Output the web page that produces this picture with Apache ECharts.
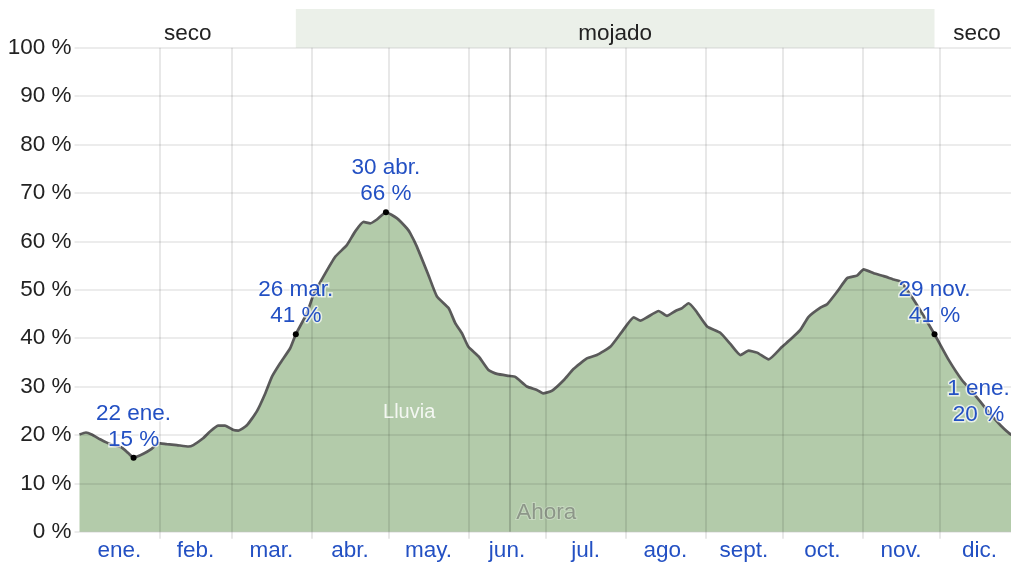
<!DOCTYPE html>
<html><head><meta charset="utf-8">
<script src="https://cdn.jsdelivr.net/npm/echarts@6/dist/echarts.min.js"></script>
<style>html,body{margin:0;padding:0;background:#fff;overflow:hidden;width:1011px;height:563px}#c{width:1020px;height:563px}</style>
</head><body><div id="c"></div>
<script>
// ---- data ----
const monthNames = ['ene.','feb.','mar.','abr.','may.','jun.','jul.','ago.','sept.','oct.','nov.','dic.'];
const monthStarts = [31,59,90,120,151,181,212,243,273,304,334];
const monthMids = [15.5,45,74.5,105,135.5,166,196.5,227.5,258,288.5,319,349.5];
const yTicks = [0,10,20,30,40,50,60,70,80,90,100];
const rainDays = [0,2.5,4.7,8,10.6,13,16.4,19,21,24.8,28,30.6,33.9,37.8,42.3,44.2,48,50.7,53.9,56.5,59.8,61.7,65,68.8,72,74.7,77.9,81.8,84,88.3,90.8,94.7,99.3,103.8,107,110.3,112.9,115.5,119,123.2,127.1,128.4,131,135.5,138.8,143.3,145.9,148.5,151,155,158.8,162.1,166.6,169.2,173.7,177.6,180,183.4,188,191.8,197,200.9,206.1,210.6,215.2,217.8,220.4,224.9,228.1,231.4,234,236.5,239.1,243.7,248.8,252.7,256.6,259.8,263.1,267.6,272.8,276,279.9,283.1,287.7,290.3,294.2,298.1,301.9,304.5,308.4,312.3,316.2,318.8,322.7,327.2,332,337.5,342.7,347.2,352.4,357.6,361.9,365];
const rainValues = [20.1,20.5,20.1,19.1,18.4,17.9,17.4,16.2,15.3,16.1,17.1,18.3,18.1,17.9,17.6,17.9,19.3,20.7,21.9,21.9,21.0,20.9,22.0,24.8,28.4,32.0,34.8,37.9,40.8,45.1,48.9,52.7,56.8,59.2,62.0,64.0,63.7,64.5,66.0,64.8,62.7,61.7,58.9,53.0,48.6,46.2,43.1,41.0,38.2,36.2,33.4,32.6,32.2,32.0,30.0,29.3,28.6,29.1,31.3,33.6,35.8,36.5,38.2,41.3,44.3,43.6,44.3,45.6,44.6,45.6,46.2,47.2,45.8,42.4,41.1,38.8,36.5,37.4,37.0,35.6,38.2,39.7,41.7,44.4,46.3,47.0,49.6,52.4,52.9,54.2,53.4,52.8,52.1,51.7,48.9,45.1,40.8,35.5,31.3,28.6,25.1,22.0,20.0,19.6];
const annoDays = [21,84,119,332,365];
const annoDates = ['22 ene.','26 mar.','30 abr.','29 nov.','1 ene.'];
const nowDay = 166.9;
const bandStarts = [0,84,332];
const bandEnds = [84,332,365];
const bandNames = ['seco','mojado','seco'];
const bandWet = [false,true,false];

// ---- chart ----
const FONT = '"Liberation Sans", Arial, sans-serif';
const BLUE = '#2350c3';
const chart = echarts.init(document.getElementById('c'), null, {renderer:'canvas'});
const seriesData = rainDays.map((d,i)=>[d, rainValues[i]]);
function valueAt(day){ const i = rainDays.indexOf(day); return rainValues[i]; }

const annoPoints = annoDays.map((d,i)=>{
  const v = valueAt(d);
  const item = {
    coord:[d, v], value:v, name:annoDates[i],
    label:{formatter: annoDates[i] + '\n' + Math.round(v) + ' %'}
  };
  if (i === annoDays.length-1) item.label.offset = [-41,-4];
  return item;
});
annoPoints.push({
  coord:[128, 24.7], name:'Lluvia', symbolSize:0,
  label:{formatter:'Lluvia', position:'inside', color:'rgba(255,255,255,0.85)', fontSize:20, textBorderWidth:0}
});
annoPoints.push({
  coord:[nowDay, 0], name:'Ahora', symbolSize:0,
  label:{formatter:'Ahora', position:'inside', offset:[37,-19], color:'rgba(70,70,70,0.45)', fontSize:22.5,
         textBorderColor:'rgba(255,255,255,0.25)', textBorderWidth:2}
});

const option = {
  animation:false,
  textStyle:{fontFamily:FONT},
  grid:[
    {left:79.5, right:0.5, top:47.7, bottom:31.3},
    {left:79.5, right:0.5, top:9, height:38.7}
  ],
  xAxis:[
    {gridIndex:0, type:'value', min:0, max:365, z:5,
     axisLine:{show:false},
     axisTick:{show:true, customValues:monthStarts, length:7, lineStyle:{color:'rgba(0,0,0,0.12)', width:1.5}},
     axisLabel:{customValues:monthMids, color:BLUE, fontSize:22.5, fontFamily:FONT, margin:8,
       formatter:(v)=>monthNames[monthMids.indexOf(v)]},
     splitLine:{show:true, lineStyle:{color:'rgba(0,0,0,0.12)', width:1.5}}
    },
    {gridIndex:1, type:'value', min:0, max:365, show:false}
  ],
  yAxis:[
    {gridIndex:0, type:'value', min:0, max:100, interval:10, z:5,
     axisLine:{show:false},
     axisTick:{show:true, length:5, lineStyle:{color:'rgba(0,0,0,0.1)', width:1.5}},
     axisLabel:{color:'#222', fontSize:22.5, fontFamily:FONT, margin:8,
       customValues:yTicks, formatter:(v)=>v + ' %'},
     splitLine:{show:true, lineStyle:{color:'rgba(0,0,0,0.1)', width:1.5}}
    },
    {gridIndex:1, type:'value', min:0, max:1, show:false}
  ],
  series:[
    {
      type:'line', xAxisIndex:0, yAxisIndex:0, z:2,
      data:seriesData, symbol:'none', smooth:0.15,
      lineStyle:{color:'#5a5a5a', width:2.7},
      areaStyle:{color:'#b3cbaa', opacity:1},
      markLine:{silent:true, symbol:['none','none'], label:{show:false},
        lineStyle:{color:'rgba(0,0,0,0.22)', type:'solid', width:1.5},
        data:[{xAxis:nowDay}]},
      markPoint:{
        silent:true, symbol:'circle', symbolSize:6, itemStyle:{color:'#000'},
        label:{show:true, position:'top', distance:2, color:BLUE, fontSize:22.5, fontFamily:FONT,
          lineHeight:26, align:'center', textBorderColor:'rgba(255,255,255,0.7)', textBorderWidth:3},
        data:annoPoints
      }
    },
    {
      type:'custom', xAxisIndex:1, yAxisIndex:1, silent:true,
      data:bandStarts.map((s,i)=>[s, bandEnds[i], i]),
      renderItem:(params, api)=>{
        const i = api.value(2);
        const a = api.coord([api.value(0), 1]);
        const b = api.coord([api.value(1), 0]);
        return {type:'group', children:[
          {type:'rect', shape:{x:a[0], y:a[1], width:b[0]-a[0], height:b[1]-a[1]},
           style:{fill: bandWet[i] ? '#ebf0e9' : 'rgba(255,255,255,0)'}},
          {type:'text', style:{text:bandNames[i], x:(a[0]+b[0])/2, y:a[1]+24.5, align:'center', verticalAlign:'middle',
           fill:'#222', font:'22.5px ' + FONT}}
        ]};
      }
    }
  ]
};
chart.setOption(option);
</script>
</body></html>
